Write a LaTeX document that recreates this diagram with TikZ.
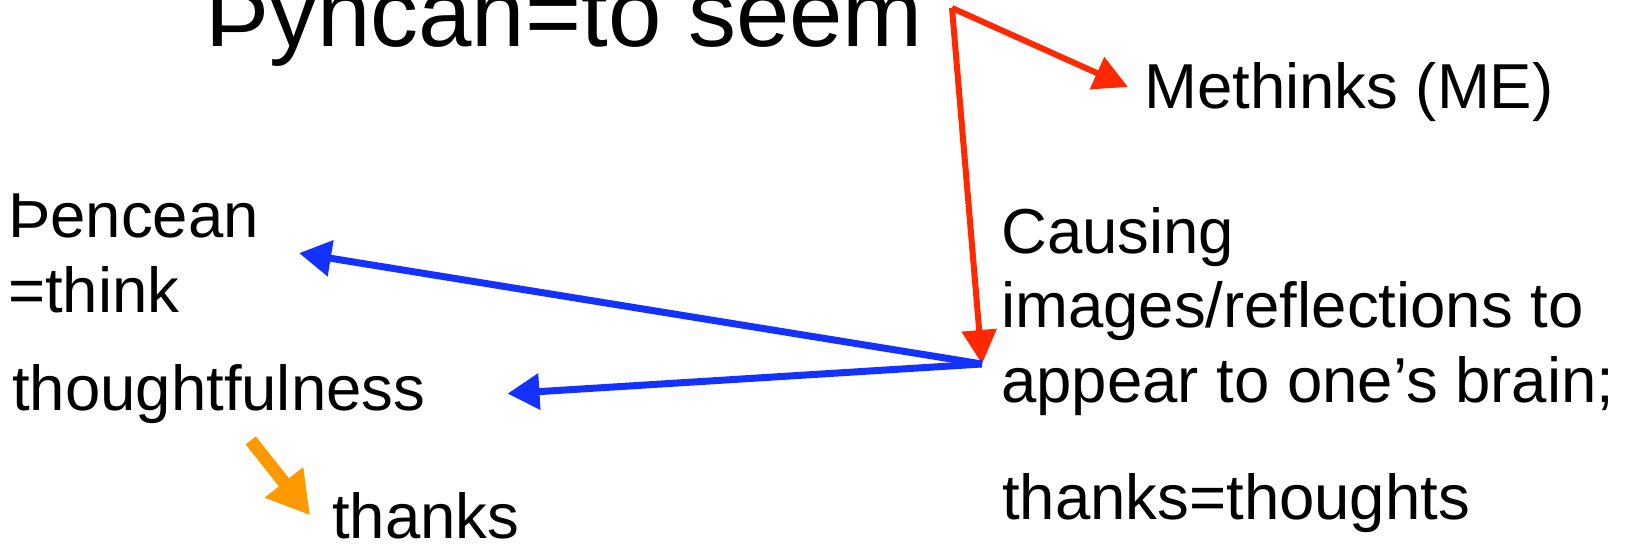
\documentclass[tikz,border=0pt]{standalone}
\usepackage{fontspec}
\setmainfont{Liberation Sans}
\usetikzlibrary{arrows.meta,calc}

\definecolor{arrred}{RGB}{255,40,0}
\definecolor{arrblue}{RGB}{20,50,255}
\definecolor{arrorange}{RGB}{255,153,0}

\begin{document}
\begin{tikzpicture}[x=1pt,y=-1pt]
\tikzset{
  word/.style={inner sep=0pt,anchor=base west,align=left,font=\fontsize{63.5}{74.5}\selectfont},
  title/.style={inner sep=0pt,anchor=base west,font=\fontsize{96}{110}\selectfont},
  redarrow/.style={-{Triangle[length=34pt,width=34pt]},line width=6pt,draw=arrred},
  bluearrow/.style={-{Triangle[length=32pt,width=35pt]},line width=7pt,draw=arrblue},
  orangearrow/.style={-{Triangle[length=42pt,width=46pt]},line width=13pt,draw=arrorange}
}
\clip (0,0) rectangle (1631,544);
% texts (base west of the last line)
\node[title] (t_title) at (205,46) {Þyncan=to seem};
\node[word] (t_methinks) at (1144,108) {Methinks (ME)};
\node[word] (t_pencean) at (8,312) {Þencean\\=think};
\node[word] (t_thought) at (12,410) {thoughtfulness};
\node[word] (t_thanks) at (332,538) {thanks};
\node[word] (t_causing) at (1001,402) {Causing\\images/reflections to\\appear to one’s brain;};
\node[word] (t_equal) at (1002,519) {thanks=thoughts};
\coordinate (c_seem) at (952,8);
\coordinate (c_brain) at (982,364);
% arrows
\draw[redarrow] (c_seem) -- ([xshift=-16pt,yshift=21pt]t_methinks.base west);
\draw[redarrow] (c_seem) -- (c_brain);
\draw[bluearrow] (c_brain) -- ([xshift=40pt]t_pencean.east);
\draw[bluearrow] (c_brain) -- ([xshift=82pt]t_thought.east);
\draw[orangearrow] ([xshift=32pt,yshift=-17pt]t_thought.south) -- ([xshift=-22pt]t_thanks.west);
\end{tikzpicture}
\end{document}
